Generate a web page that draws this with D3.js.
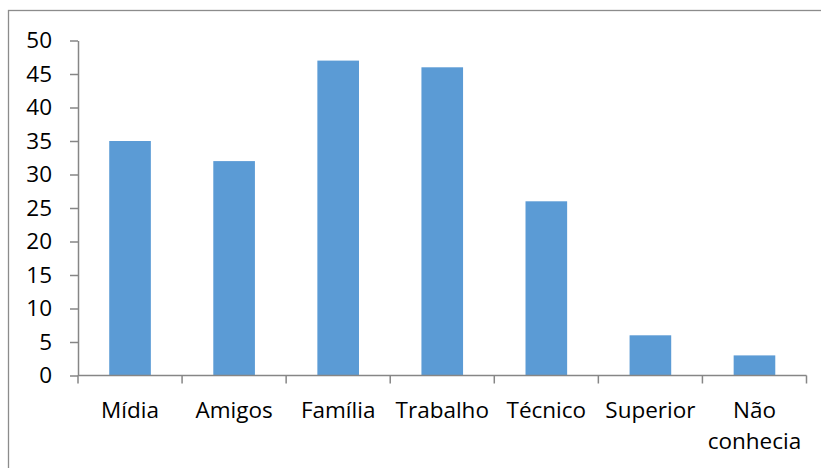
<!DOCTYPE html>
<html>
<head>
<meta charset="utf-8">
<script src="https://cdn.jsdelivr.net/npm/d3@7"></script>
<style>
  html, body { margin: 0; padding: 0; background: #fff; }
  svg { display: block; }
  text { font-family: "Open Sans", sans-serif; fill: #000; }
</style>
</head>
<body>
<div id="chart"></div>
<script>
// Categories and counts
const categories = ["Mídia", "Amigos", "Família", "Trabalho", "Técnico", "Superior", "Não conhecia"];
const values = [35, 32, 47, 46, 26, 6, 3];
const yTicks = [0, 5, 10, 15, 20, 25, 30, 35, 40, 45, 50];

const W = 821, H = 468;
const plot = { left: 78, right: 806.5, top: 40.5, bottom: 375.5 };
const axisColor = "#868686";
const barColor = "#5B9BD5";
const fontSize = 22.5;

const svg = d3.select("#chart").append("svg")
  .attr("width", W).attr("height", H);

// Outer chart frame (runs off the right and bottom edges)
svg.append("rect")
  .attr("x", 8.5).attr("y", 10.5)
  .attr("width", W + 20).attr("height", H + 20)
  .attr("fill", "none").attr("stroke", "#8c8c8c").attr("stroke-width", 1.3);

const x = d3.scaleBand().domain(categories)
  .range([plot.left, plot.right]).paddingInner(0.6).paddingOuter(0.3);
const y = d3.scaleLinear().domain([0, 50]).range([plot.bottom, plot.top]);

// Bars
svg.append("g").selectAll("rect")
  .data(categories.map((c, i) => ({ c, v: values[i] })))
  .join("rect")
  .attr("x", d => x(d.c))
  .attr("width", x.bandwidth())
  .attr("y", d => y(d.v))
  .attr("height", d => y(0) - y(d.v))
  .attr("fill", barColor);

// Y axis
const yAxis = svg.append("g")
  .attr("transform", `translate(${plot.left},0)`)
  .call(d3.axisLeft(y).tickValues(yTicks).tickSize(8).tickPadding(18).tickSizeOuter(0));
yAxis.select(".domain").attr("stroke", axisColor).attr("stroke-width", 1.5);
yAxis.selectAll(".tick line").attr("stroke", axisColor).attr("stroke-width", 1.5);
yAxis.selectAll(".tick text")
  .style("font-family", "'Open Sans', sans-serif")
  .style("font-size", fontSize + "px")
  .attr("fill", "#000");

// X axis: baseline and boundary ticks between categories
const step = (plot.right - plot.left) / categories.length;
const xg = svg.append("g");
xg.append("line")
  .attr("x1", plot.left).attr("x2", plot.right)
  .attr("y1", plot.bottom).attr("y2", plot.bottom)
  .attr("stroke", axisColor).attr("stroke-width", 1.5);
xg.selectAll("line.b")
  .data(d3.range(categories.length + 1))
  .join("line").attr("class", "b")
  .attr("x1", i => plot.left + i * step).attr("x2", i => plot.left + i * step)
  .attr("y1", plot.bottom).attr("y2", plot.bottom + 8)
  .attr("stroke", axisColor).attr("stroke-width", 1.5);

// Category labels (wrapped when two words)
const labels = svg.append("g").selectAll("text")
  .data(categories).join("text")
  .attr("text-anchor", "middle")
  .attr("font-size", fontSize)
  .attr("x", d => x(d) + x.bandwidth() / 2)
  .attr("y", 418);
labels.each(function(d) {
  const words = d.split(" ");
  const t = d3.select(this);
  const cx = t.attr("x");
  if (words.length === 1) { t.text(d); return; }
  words.forEach((w, i) => {
    t.append("tspan").attr("x", cx).attr("dy", i === 0 ? 0 : 31).text(w);
  });
});
</script>
</body>
</html>
